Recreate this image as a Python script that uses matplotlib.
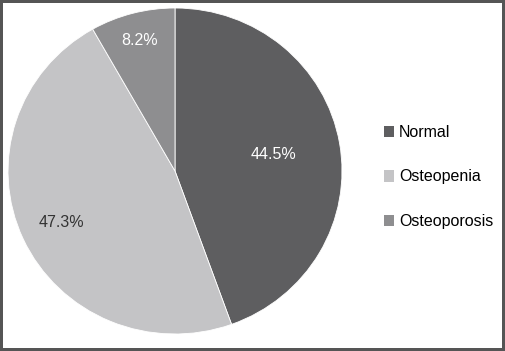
import matplotlib.pyplot as plt
from matplotlib.patches import Patch

plt.rcParams['font.family'] = ['Liberation Sans', 'DejaVu Sans']

labels = ['Normal', 'Osteopenia', 'Osteoporosis']
values = [44.5, 47.3, 8.2]
colors = ['#5e5e60', '#c4c4c6', '#8e8e90']
pct_colors = ['white', '#333333', 'white']
pct_dist = [0.6, 0.75, 0.83]

fig = plt.figure(figsize=(5.05, 3.51), dpi=100)
fig.patch.set_facecolor('white')
fig.patch.set_edgecolor('#555555')
fig.patch.set_linewidth(3)

# pie is slightly wider than tall in the original
ax = fig.add_axes([8 / 505, 17 / 351, 334 / 505, 326 / 351])
wedges, texts, autotexts = ax.pie(values, colors=colors, startangle=90, counterclock=False,
                                  autopct='%.1f%%', pctdistance=0.6,
                                  wedgeprops=dict(edgecolor='white', linewidth=0.6),
                                  textprops=dict(fontsize=11.5))
for t, d, c in zip(autotexts, pct_dist, pct_colors):
    x, y = t.get_position()
    t.set_position((x / 0.6 * d, y / 0.6 * d))
    t.set_color(c)
ax.set_xlim(-1.0, 1.0)
ax.set_ylim(-1.0, 1.0)
ax.set_aspect('auto')
ax.axis('off')

handles = [Patch(facecolor=c, edgecolor='none') for c in colors]
fig.legend(handles, labels, loc='center left', bbox_to_anchor=(384 / 505, 1 - 177 / 351),
           frameon=False, fontsize=11.5, labelspacing=1.85, borderpad=0, borderaxespad=0,
           handlelength=0.6, handleheight=0.7, handletextpad=0.35)

fig.savefig('out.png', dpi=100)
plt.close()
